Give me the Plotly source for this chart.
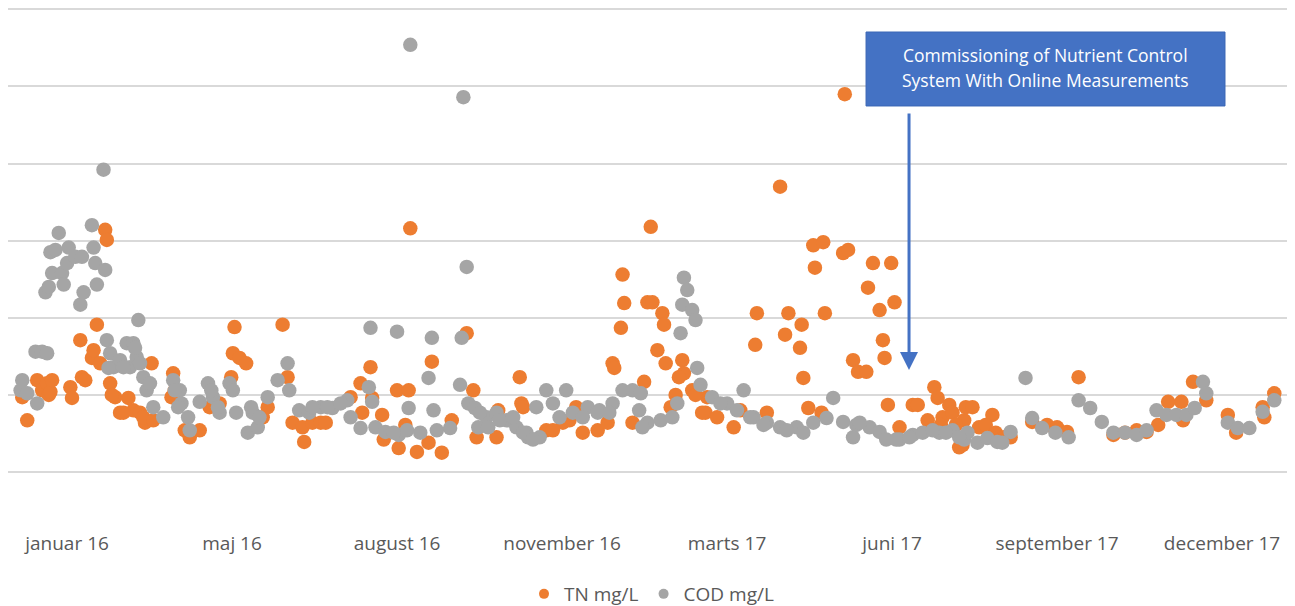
import pandas as pd
import plotly.graph_objects as go

# ---- data (days since 2016-01-01, value) ----
base_date = "2016-01-01"

tn_days = [3, 6, 12, 15, 18, 19, 20, 21, 32, 33, 38, 39, 41, 45, 46, 48, 50, 53, 54, 56,
           59, 62, 67, 70, 74, 77, 81, 94, 95, 101, 104, 110, 116, 122, 129, 130, 131, 134, 138, 148,
           151, 160, 163, 166, 172, 173, 178, 183, 186, 201, 207, 208, 213, 214, 220, 221, 229, 230, 234, 236,
           237, 241, 248, 250, 256, 262, 271, 275, 277, 289, 290, 303, 304, 305, 319, 329, 337, 341, 350, 356,
           359, 360, 365, 364, 366, 371, 378, 380, 382, 383, 386, 389, 390, 391, 394, 397, 401, 402, 407, 415,
           416, 422, 432, 436, 445, 446, 452, 460, 463, 465, 472, 473, 474, 477, 480, 481, 485, 486, 487, 498,
           499, 501, 504, 507, 512, 513, 516, 520, 522, 523, 525, 527, 529, 532, 540, 543, 549, 553, 555, 558,
           562, 564, 568, 570, 571, 572, 576, 580, 588, 599, 612, 621, 627, 633, 640, 661, 668, 675, 681, 688,
           694, 702, 703, 709, 717, 730, 735, 751, 752, 758,
           57, 64, 76, 82, 93, 323, 333, 399, 409, 413, 557, 566, 584, 590, 595]
tn_vals = [9.7, 6.7, 11.9, 10.6, 11.5, 10.0, 10.4, 11.9, 11.0, 9.6, 17.1, 12.3, 11.9, 14.8, 15.8, 19.1, 14.1, 31.4, 30.1, 11.5,
           9.7, 7.7, 9.6, 8.0, 7.7, 6.4, 14.1, 12.8, 10.6, 5.4, 4.5, 5.4, 8.4, 8.9, 12.3, 15.4, 18.8, 14.8, 14.1, 7.1,
           8.4, 19.1, 12.3, 6.4, 5.8, 3.9, 6.4, 6.4, 6.4, 9.7, 11.5, 7.7, 13.6, 9.6, 7.4, 4.2, 10.6, 3.1, 6.1, 10.6,
           31.6, 2.6, 3.8, 14.3, 2.5, 6.7, 18.0, 10.6, 4.5, 4.5, 8.0, 12.3, 8.9, 8.4, 5.4, 6.4, 8.4, 5.1, 5.4, 6.4,
           14.1, 13.5, 25.6, 18.7, 21.9, 6.4, 11.7, 22.0, 31.8, 22.0, 15.8, 20.6, 19.1, 14.1, 8.4, 10.0, 14.5, 12.8, 10.6, 7.7,
           9.7, 7.1, 5.8, 8.0, 16.5, 20.6, 7.7, 37.0, 17.8, 20.6, 16.1, 19.1, 12.2, 8.3, 29.4, 26.5, 7.7, 29.8, 20.6, 28.4,
           49.0, 28.8, 14.5, 13.0, 13.0, 23.9, 27.1, 21.0, 17.1, 14.8, 8.7, 27.1, 22.0, 5.8, 8.7, 8.7, 6.7, 11.0, 9.6, 7.1,
           8.7, 7.7, 3.2, 3.5, 6.7, 8.4, 8.4, 5.8, 7.4, 4.5, 6.5, 6.1, 5.8, 5.2, 12.3, 4.8, 5.1, 5.4, 5.2, 6.1,
           9.1, 9.1, 6.7, 11.7, 9.3, 7.4, 5.1, 8.4, 7.1, 10.2,
           10.0, 7.7, 7.1, 6.7, 9.7, 5.4, 6.7, 12.3, 10.0, 7.7, 6.1, 6.1, 6.1, 5.1, 4.5]

cod_days = [2, 3, 6, 11, 12, 15, 18, 17, 19, 20, 21, 23, 25, 27, 28, 30, 31, 35, 38, 39,
            40, 45, 46, 47, 48, 52, 53, 54, 56, 58, 62, 66, 68, 70, 72, 73, 74, 76, 78, 82,
            88, 94, 98, 99, 103, 104, 110, 115, 118, 122, 128, 130, 132, 139, 142, 145, 151, 157, 163, 164,
            170, 176, 183, 190, 199, 201, 207, 213, 212, 214, 216, 222, 229, 230, 235, 236, 237, 243, 248, 250,
            251, 253, 261, 268, 267, 269, 271, 272, 276, 278, 283, 289, 295, 301, 307, 308, 313, 315, 319, 323,
            327, 331, 335, 344, 351, 359, 365, 371, 375, 376, 380, 388, 395, 398, 401, 400, 402, 404, 407, 409,
            410, 412, 419, 428, 434, 438, 444, 452, 460, 470, 474, 480, 488, 492, 498, 504, 506, 514, 520, 524,
            532, 540, 546, 556, 564, 571, 573, 579, 585, 591, 599, 608, 612, 618, 626, 634, 640, 647, 654, 661,
            668, 675, 681, 687, 693, 699, 705, 710, 715, 717, 730, 736, 743, 751, 758,
            71, 55, 64, 80, 95, 97, 117, 121, 141, 146, 178, 187, 195, 227, 279, 284, 291, 299, 305, 311,
            341, 350, 357, 377, 424, 442, 450, 464, 508, 530, 538, 552, 560, 568, 594]
cod_vals = [10.6, 11.9, 10.2, 15.6, 8.9, 15.6, 15.4, 23.3, 24.0, 28.5, 25.8, 28.8, 31.0, 25.8, 24.3, 27.1, 29.1, 27.9, 21.7, 27.9,
            23.3, 32.0, 29.1, 27.1, 24.3, 39.2, 26.2, 17.1, 15.4, 13.6, 14.5, 16.7, 13.6, 16.7, 14.9, 19.7, 14.1, 12.3, 10.6, 8.4,
            7.1, 11.9, 10.6, 8.9, 7.1, 5.4, 9.1, 11.5, 9.7, 7.7, 11.5, 10.6, 7.7, 5.1, 7.7, 5.8, 9.7, 11.9, 14.1, 10.6,
            8.0, 7.7, 8.4, 8.3, 9.3, 7.1, 5.7, 18.7, 11.0, 9.1, 5.8, 5.2, 18.2, 4.8, 5.4, 8.3, 55.4, 5.1, 12.2, 17.4,
            8.0, 5.4, 5.7, 17.4, 11.3, 48.6, 26.6, 8.9, 8.3, 5.8, 7.1, 7.7, 6.7, 5.8, 5.1, 4.5, 8.4, 4.5, 10.6, 8.9,
            7.1, 10.6, 7.7, 8.4, 8.0, 8.9, 10.6, 10.6, 8.0, 10.2, 6.4, 6.7, 7.1, 8.9, 21.7, 18.0, 25.2, 23.6, 21.0, 19.7,
            13.5, 11.3, 9.7, 8.9, 8.0, 10.6, 7.1, 6.4, 5.8, 5.8, 5.1, 6.4, 7.0, 9.6, 6.5, 4.5, 6.1, 5.8, 5.2, 4.2,
            4.2, 4.8, 5.1, 5.1, 5.4, 4.2, 5.1, 3.8, 4.4, 3.9, 5.2, 12.2, 7.0, 5.7, 5.1, 4.5, 9.3, 8.3, 6.5, 5.1,
            5.1, 4.8, 5.4, 8.0, 7.4, 7.4, 7.4, 8.3, 11.7, 10.2, 6.4, 5.7, 5.7, 7.8, 9.3,
            16.1, 13.5, 13.6, 11.5, 10.6, 8.4, 10.6, 8.4, 8.4, 7.1, 8.4, 8.4, 8.9, 5.1, 7.7, 5.8, 6.7, 7.1, 5.1, 4.2,
            7.1, 7.7, 7.7, 5.8, 8.9, 7.1, 6.1, 5.4, 6.4, 4.2, 4.5, 5.4, 5.1, 4.5, 3.8]

tick_days = [30, 129.5, 229, 328.5, 428, 527.5, 627, 726.5]
tick_labels = ["januar 16", "maj 16", "august 16", "november 16", "marts 17",
               "juni 17", "september 17", "december 17"]

series_names = ["TN mg/L", "COD mg/L"]
series_colors = ["#ED7D31", "#A5A5A5"]

# ---- build ----
b = pd.Timestamp(base_date)
to_date = lambda d: b + pd.to_timedelta(d, unit="D")
tn_x = [to_date(d) for d in tn_days]
cod_x = [to_date(d) for d in cod_days]
tick_x = [to_date(d) for d in tick_days]

fig = go.Figure()
for name, xs, ys, col in [(series_names[0], tn_x, tn_vals, series_colors[0]),
                          (series_names[1], cod_x, cod_vals, series_colors[1])]:
    fig.add_trace(go.Scatter(x=xs, y=ys, mode="markers", name=name, showlegend=False,
                             marker=dict(size=14.5, color=col, line=dict(width=0))))
# legend entries with small markers
for name, col in zip(series_names, series_colors):
    fig.add_trace(go.Scatter(x=[None], y=[None], mode="markers", name=name,
                             marker=dict(size=10, color=col)))

# page body has an 8px margin: figure sized to fit the window exactly
fig.update_layout(
    width=1287, height=598,
    margin=dict(l=0, r=0, t=0, b=76, autoexpand=False),
    paper_bgcolor="white", plot_bgcolor="white",
    font=dict(family="Open Sans, sans-serif", size=19, color="#595959"),
    showlegend=True,
    legend=dict(orientation="h", x=0.5, xanchor="center", y=-0.1226, yanchor="middle",
                font=dict(size=19, color="#595959"), itemwidth=30, tracegroupgap=0),
    xaxis=dict(type="date", range=[to_date(-5.6), to_date(770.5)],
               tickvals=tick_x, ticktext=tick_labels, showgrid=False, zeroline=False,
               showline=False, ticks="", tickfont=dict(size=19, color="#595959")),
    yaxis=dict(range=[-7.52, 60.17], tickvals=[0, 10, 20, 30, 40, 50, 60],
               showticklabels=False, gridcolor="#D9D9D9", gridwidth=2,
               zeroline=False, showline=False, ticks=""),
)

# callout box
fig.add_shape(type="rect", xref="paper", yref="paper", x0=0.6667, x1=0.9456, y0=0.8123, y1=0.954,
              fillcolor="#4472C4", line=dict(color="#3A66B5", width=1), layer="above")
fig.add_annotation(xref="paper", yref="paper", x=0.8065, y=0.910, showarrow=False,
                   text="Commissioning of Nutrient Control", font=dict(color="white", size=17.5),
                   xanchor="center", yanchor="middle")
fig.add_annotation(xref="paper", yref="paper", x=0.8065, y=0.862, showarrow=False,
                   text="System With Online Measurements", font=dict(color="white", size=17.5),
                   xanchor="center", yanchor="middle")
# arrow
fig.add_annotation(xref="paper", yref="paper", x=0.7001, y=0.3065, text="",
                   showarrow=True, ax=0, ay=-258, arrowcolor="#4472C4", arrowwidth=3,
                   arrowhead=2, arrowsize=1.2, standoff=0)

fig.write_html("out.html")
